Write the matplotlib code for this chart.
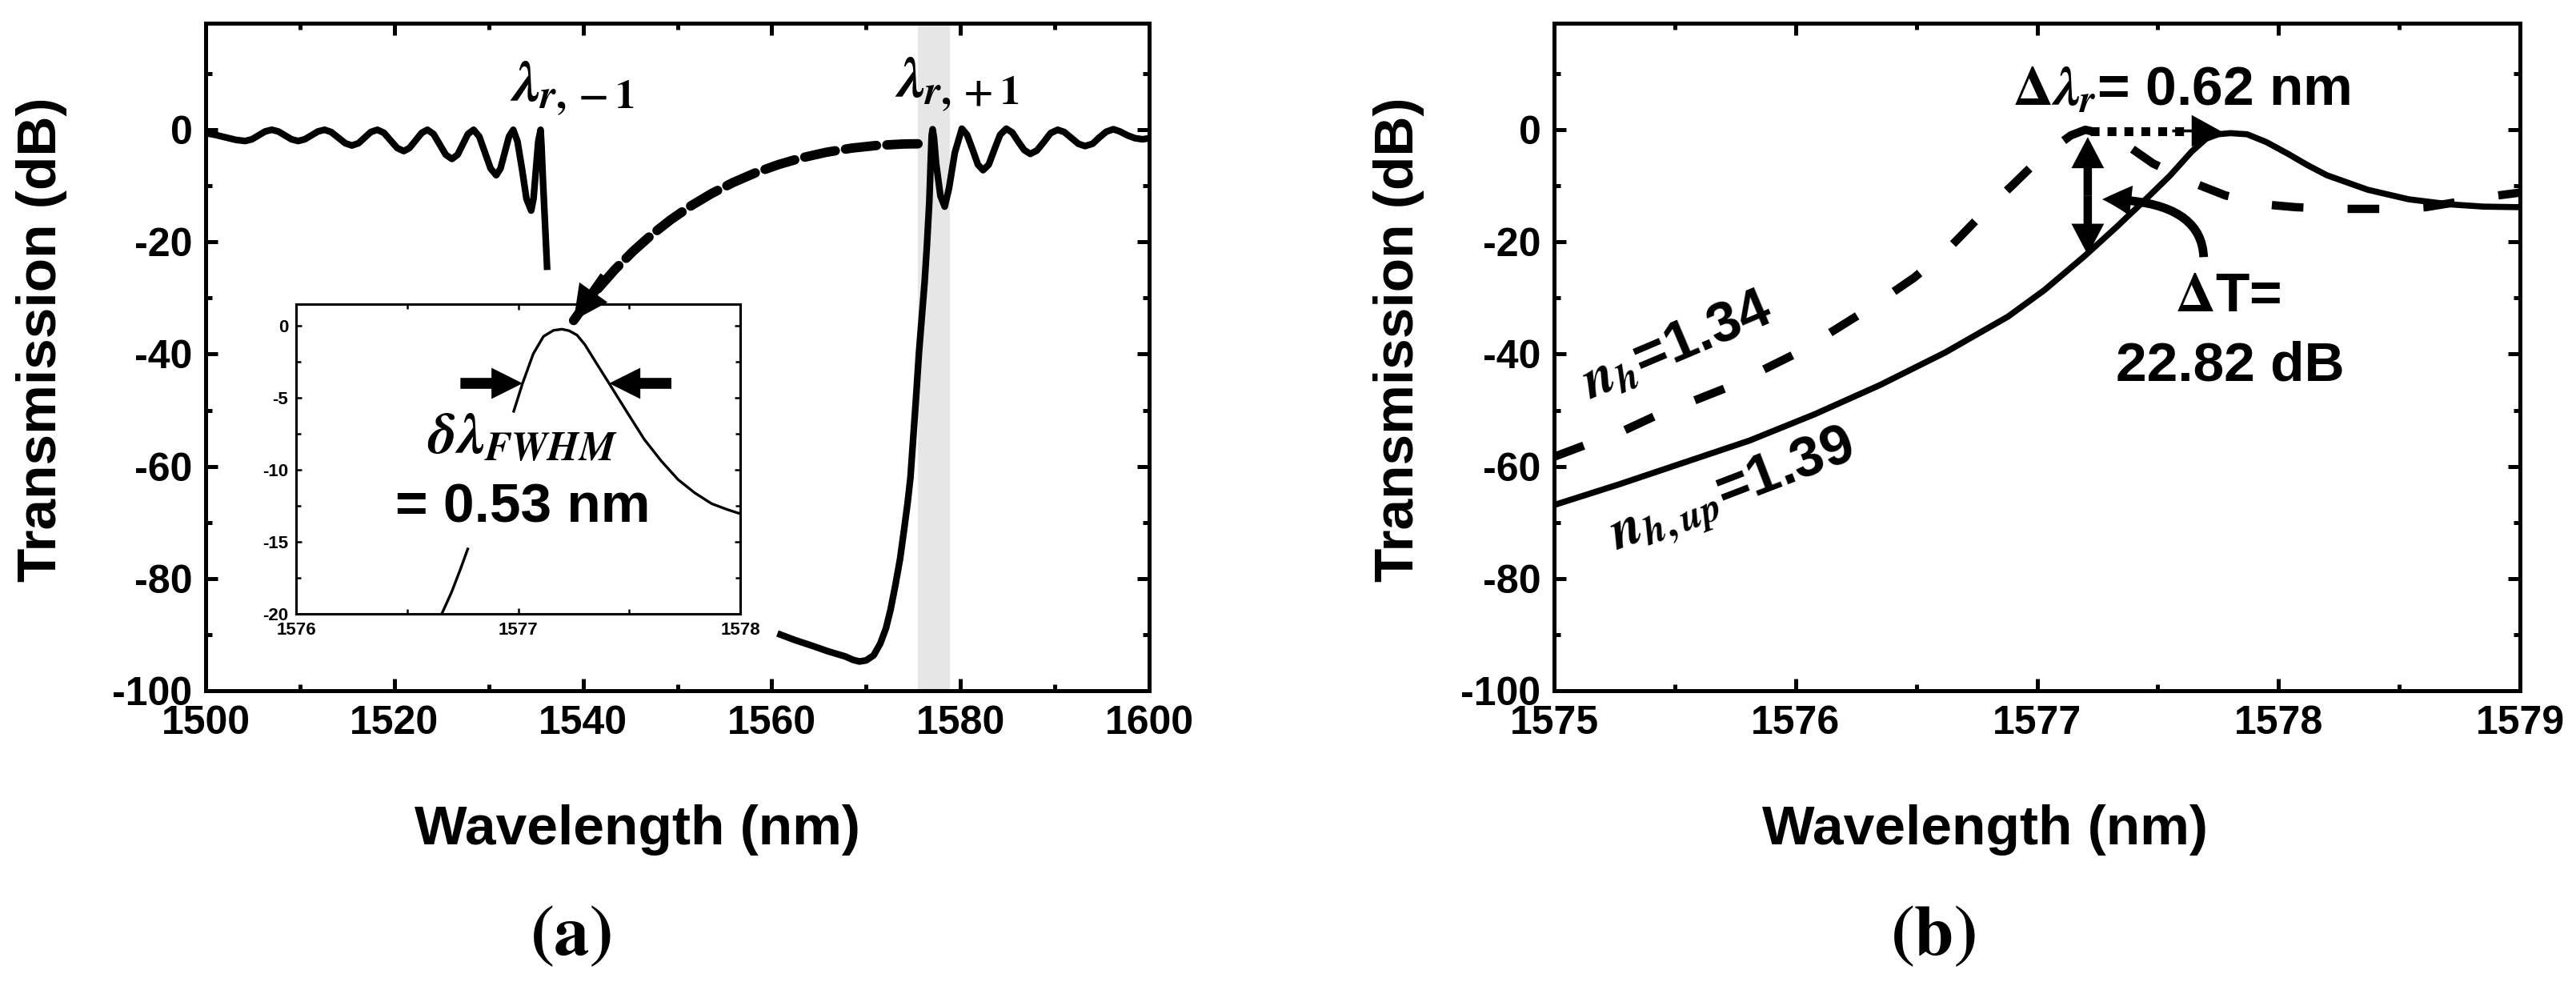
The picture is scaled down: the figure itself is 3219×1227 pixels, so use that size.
import numpy as np
import matplotlib
matplotlib.use('Agg')
import matplotlib.pyplot as plt
from matplotlib.patches import FancyArrowPatch, ArrowStyle
from matplotlib.path import Path
from matplotlib.ticker import MultipleLocator

plt.rcParams['font.family'] = ['Liberation Sans', 'DejaVu Sans']
plt.rcParams['font.weight'] = 'bold'
plt.rcParams['mathtext.fontset'] = 'stix'
plt.rcParams['axes.unicode_minus'] = False

# ---------------- data ----------------
nan = np.nan
# panel (a): full spectrum, visible parts (NaN = hidden behind inset)
wl_a = [1500.0, 1501.0, 1502.1, 1503.2, 1504.2, 1504.9, 1505.6, 1506.3, 1507.0,
        1507.7, 1508.4, 1509.1, 1509.8, 1510.5, 1511.2, 1511.9, 1512.6,
        1513.3, 1514.05, 1514.8, 1515.5, 1516.2, 1516.85, 1517.5, 1518.2,
        1518.9, 1519.6, 1520.3, 1521.0, 1521.6, 1522.25, 1522.9, 1523.5,
        1524.15, 1524.8, 1525.45, 1526.1, 1526.7, 1527.25, 1527.8, 1528.4,
        1529.0, 1529.6, 1530.2, 1530.8, 1531.25, 1531.7, 1532.15, 1532.6,
        1533.05, 1533.55, 1534.0, 1534.5, 1534.75, 1535.0, 1535.25, 1535.5,
        1535.6, 1535.75, 1536.2,
        nan,
        1560.6, 1562.5, 1564.3, 1566.0, 1567.8, 1568.6, 1569.3, 1570.0, 1570.8,
        1571.5, 1572.1, 1572.6, 1573.1, 1573.6, 1574.0, 1574.4, 1574.7, 1575.1,
        1575.3, 1575.6, 1576.2, 1576.45, 1576.7, 1576.85, 1576.95, 1577.05,
        1577.2, 1577.42, 1577.88, 1578.33, 1578.79, 1579.4, 1580.15,
        1580.7, 1581.3, 1581.85, 1582.4, 1583.0, 1583.6, 1584.2, 1584.85,
        1585.5, 1586.1, 1586.75, 1587.4, 1588.1, 1588.85, 1589.55, 1590.3,
        1591.0, 1591.75, 1592.5, 1593.2, 1594.0, 1594.7, 1595.45, 1596.2,
        1596.9, 1597.7, 1598.5, 1599.3, 1600.0]
t_a = [-0.6, -0.9, -1.35, -1.8, -2.0, -1.7, -1.0, -0.3, 0.0,
       -0.3, -1.0, -1.7, -2.0, -1.7, -1.0, -0.3, 0.0,
       -0.4, -1.4, -2.4, -2.8, -2.4, -1.4, -0.4, 0.0,
       -0.55, -1.9, -3.25, -3.8, -3.25, -1.9, -0.55, 0.0,
       -0.75, -2.6, -4.45, -5.2, -4.45, -2.6, -0.75, 0.0,
       -1.2, -4.05, -6.9, -8.1, -6.9, -4.05, -1.2, 0.0,
       -2.1, -7.2, -12.3, -14.4, -12.3, -7.2, -2.1, 0.0,
       -3.0, -9.0, -25.0,
       nan,
       -89.8, -91.0, -92.0, -93.0, -93.9, -94.5, -94.8, -94.6, -93.7,
       -91.6, -88.9, -85.5, -81.2, -76.5, -71.6, -66.5, -62.0, -52.4,
       -47.6, -39.8, -27.2, -20.5, -12.8, -5.5, -1.0, 0.1,
       -1.5, -6.0, -11.8, -13.7, -10.4, -4.1, 0.2,
       -0.9, -3.6, -6.2, -7.2, -6.2, -3.5, -0.9, 0.2,
       -0.5, -2.05, -3.6, -4.3, -3.7, -2.15, -0.6, 0.0,
       -0.4, -1.45, -2.5, -2.9, -2.5, -1.4, -0.35, 0.1,
       -0.3, -1.0, -1.5, -1.7, -1.5]

# inset: zoom on the lambda_{r,+1} peak (NaN = hidden behind the label)
wl_in = [1576.656, 1576.70, 1576.74, 1576.773, nan,
         1576.98, 1577.02, 1577.068, 1577.114, 1577.159, 1577.197, 1577.23,
         1577.265, 1577.30, 1577.341, 1577.409, 1577.492, 1577.568, 1577.644,
         1577.72, 1577.795, 1577.871, 1577.94, 1578.0]
t_in = [-20.0, -18.5, -16.9, -15.5, nan,
        -5.94, -3.99, -1.95, -0.74, -0.32, -0.24, -0.35,
        -0.65, -1.3, -2.32, -3.99, -6.04, -7.89, -9.38,
        -10.68, -11.6, -12.35, -12.75, -13.05]

# panel (b)
wl_up = [1575.0, 1575.27, 1575.54, 1575.81, 1576.08, 1576.35, 1576.62, 1576.88,
         1577.03, 1577.20, 1577.33, 1577.45, 1577.55, 1577.64, 1577.70, 1577.75,
         1577.80, 1577.87, 1577.95, 1578.04, 1578.12, 1578.20, 1578.37, 1578.54,
         1578.71, 1578.85, 1579.0]
t_up = [-66.9, -63.2, -59.3, -55.4, -50.7, -45.5, -39.7, -33.3,
        -28.6, -22.4, -17.3, -12.4, -8.2, -3.9, -1.6, -0.8,
        -0.6, -0.8, -2.2, -4.3, -6.3, -8.1, -10.7, -12.4,
        -13.3, -13.7, -13.8]
wl_h = [1575.0, 1575.29, 1575.42, 1575.72, 1576.02, 1576.31, 1576.49, 1576.62,
        1576.78, 1576.90, 1577.0, 1577.07, 1577.14, 1577.20, 1577.28, 1577.37,
        1577.48, 1577.65, 1577.78, 1577.94, 1578.07, 1578.25, 1578.37, 1578.49,
        1578.61, 1578.78, 1578.91, 1579.0]
t_h = [-58.3, -53.6, -51.0, -45.9, -39.5, -31.7, -26.4, -21.8,
       -14.7, -9.8, -5.6, -3.2, -1.0, 0.0, -0.8, -2.7,
       -6.0, -9.5, -11.7, -13.3, -13.8, -14.1, -14.1, -14.1,
       -13.8, -12.6, -11.7, -11.2]

band_a = (1575.45, 1578.9)

# ---------------- figure ----------------
W, H = 3219, 1227
fig = plt.figure(figsize=(W / 100, H / 100), dpi=100)


def box(x0, y0, x1, y1):
    return [x0 / W, 1 - y1 / H, (x1 - x0) / W, (y1 - y0) / H]


ax_a = fig.add_axes(box(257, 29, 1436, 863))
ax_b = fig.add_axes(box(1942, 29, 3149, 863))
ax_in = fig.add_axes(box(370, 380, 925, 767), zorder=5)


def style_main(ax):
    for s in ax.spines.values():
        s.set_linewidth(3.6)
    ax.tick_params(which='both', direction='in', top=True, right=True,
                   width=3.6, labelsize=36)
    ax.tick_params(which='major', length=11)
    ax.tick_params(which='minor', length=5.5)
    ax.tick_params(axis='x', pad=13)
    ax.tick_params(axis='y', pad=12)
    ax.set_ylim(-100, 19)
    ax.set_yticks([-100, -80, -60, -40, -20, 0])
    ax.yaxis.set_minor_locator(MultipleLocator(10))


# ---- panel (a)
style_main(ax_a)
ax_a.set_xlim(1500, 1600)
ax_a.xaxis.set_major_locator(MultipleLocator(20))
ax_a.xaxis.set_minor_locator(MultipleLocator(10))
ax_a.axvspan(*band_a, color='#e6e6e6', lw=0, zorder=0.5)
ax_a.plot(wl_a, t_a, color='k', lw=6, solid_capstyle='butt',
          solid_joinstyle='round', zorder=2)
ax_a.text(1532.2, 5.2, r'$\lambda_{r,-1}$', fontsize=52, ha='left',
          va='baseline', zorder=4)
ax_a.text(1573.0, 5.8, r'$\lambda_{r,+1}$', fontsize=52, ha='left',
          va='baseline', zorder=4)

# inset
ax_in.set_facecolor('white')
for s in ax_in.spines.values():
    s.set_linewidth(2.2)
ax_in.set_xlim(1576, 1578)
ax_in.set_ylim(-20, 1.5)
ax_in.set_xticks([1576, 1577, 1578])
ax_in.set_yticks([-20, -15, -10, -5, 0])
ax_in.xaxis.set_minor_locator(MultipleLocator(0.5))
ax_in.yaxis.set_minor_locator(MultipleLocator(2.5))
ax_in.tick_params(which='both', direction='in', top=True, right=True,
                  width=1.8, labelsize=16, pad=7)
ax_in.tick_params(which='major', length=5)
ax_in.tick_params(which='minor', length=4)
ax_in.plot(wl_in, t_in, color='k', lw=2.4)
ax_in.text(1577.02, -8.9, r'$\delta\lambda_{FWHM}$', fontsize=52,
           ha='center', va='baseline')
ax_in.text(1577.02, -13.65, '= 0.53 nm', fontsize=50, ha='center',
           va='baseline')
fw = ArrowStyle.Simple(head_length=1.0, head_width=1.0, tail_width=0.35)
for a, b in [((1576.74, -4.0), (1577.02, -4.0)),
             ((1577.69, -4.0), (1577.41, -4.0))]:
    ax_in.add_patch(FancyArrowPatch(a, b, arrowstyle=fw, mutation_scale=28,
                                    lw=0, color='k', shrinkA=0, shrinkB=0))

# dashed connector from the highlighted band to the inset
S, C, T = (1575.5, -2.5), (1552.2, -2.5), (1539.0, -34.0)
conn = FancyArrowPatch(path=Path([S, C, T], [Path.MOVETO, Path.CURVE3, Path.CURVE3]),
                       arrowstyle='-', lw=8.5, color='k',
                       linestyle=(0, (3.3, 1.1)),
                       transform=ax_a.transData, zorder=10)
fig.add_artist(conn)
k = 0.25
Pb = (T[0] + k * (C[0] - T[0]), T[1] + k * (C[1] - T[1]))
head = FancyArrowPatch(Pb, T, arrowstyle=ArrowStyle.Simple(head_length=1.0, head_width=1.0,
                                                           tail_width=0.3),
                       mutation_scale=31, lw=0, color='k', shrinkA=0, shrinkB=0,
                       transform=ax_a.transData, zorder=11)
fig.add_artist(head)

# ---- panel (b)
style_main(ax_b)
ax_b.set_xlim(1575, 1579)
ax_b.xaxis.set_major_locator(MultipleLocator(1))
ax_b.xaxis.set_minor_locator(MultipleLocator(0.5))
ax_b.plot(wl_h, t_h, color='k', lw=7.5, linestyle=(0, (3.8, 5.3)),
          dash_capstyle='butt', zorder=2)
ax_b.plot(wl_up, t_up, color='k', lw=5.5, solid_capstyle='butt',
          solid_joinstyle='round', zorder=3)

# dotted shift arrow
ax_b.plot([1577.22, 1577.66], [-0.2, -0.2], color='k', lw=8,
          linestyle=(0, (1.0, 0.9)), dash_capstyle='butt', zorder=4)
ax_b.add_patch(FancyArrowPatch((1577.56, -0.2), (1577.76, -0.2),
                               arrowstyle=ArrowStyle.Simple(head_length=1.0, head_width=1.1,
                                                            tail_width=0.1),
                               mutation_scale=26, lw=0, color='k',
                               shrinkA=0, shrinkB=0, zorder=5))
# double vertical arrow
vs = ArrowStyle.Simple(head_length=1.0, head_width=1.05, tail_width=0.27)
for tip in [(1577.21, -1.3), (1577.21, -22.3)]:
    ax_b.add_patch(FancyArrowPatch((1577.21, -11.8), tip, arrowstyle=vs,
                                   mutation_scale=28, lw=0, color='k',
                                   shrinkA=0, shrinkB=0, zorder=5))
# curved Delta T arrow
dT = FancyArrowPatch(path=Path([(1577.69, -22.7), (1577.68, -12.4), (1577.27, -12.4)],
                               [Path.MOVETO, Path.CURVE3, Path.CURVE3]),
                     arrowstyle=ArrowStyle.Simple(head_length=1.0, head_width=1.05,
                                                  tail_width=0.3),
                     mutation_scale=26, lw=0, color='k', zorder=5)
ax_b.add_patch(dT)

ax_b.text(1576.90, 4.6, r'$\Delta\lambda_r$= 0.62 nm', fontsize=50,
          ha='left', va='baseline', zorder=6)
ax_b.text(1577.79, -32.4, r'$\Delta$T=', fontsize=50, ha='center',
          va='baseline', zorder=6)
ax_b.text(1577.80, -44.7, '22.82 dB', fontsize=50, ha='center',
          va='baseline', zorder=6)
ax_b.text(1575.51, -38.7, r'$n_h$=1.34', fontsize=51, rotation=23,
          ha='center', va='center', zorder=6)
ax_b.text(1575.74, -64.8, r'$n_{h,up}$=1.39', fontsize=51, rotation=21,
          ha='center', va='center', zorder=6)

# ---- axis labels and panel tags (figure coords)
for xc in (52, 1748):
    fig.text(xc / W, 1 - 424 / H, 'Transmission (dB)', rotation=90,
             fontsize=50, ha='center', va='center')
for xc in (797, 2480):
    fig.text(xc / W, 1 - 1037 / H, 'Wavelength (nm)', fontsize=50,
             ha='center', va='center')
fig.text(713 / W, 1 - 1170 / H, r'$(\mathbf{a})$', fontsize=64,
         ha='center', va='center')
fig.text(2415 / W, 1 - 1170 / H, r'$(\mathbf{b})$', fontsize=64,
         ha='center', va='center')

fig.savefig('out.png', dpi=100, facecolor='white')
